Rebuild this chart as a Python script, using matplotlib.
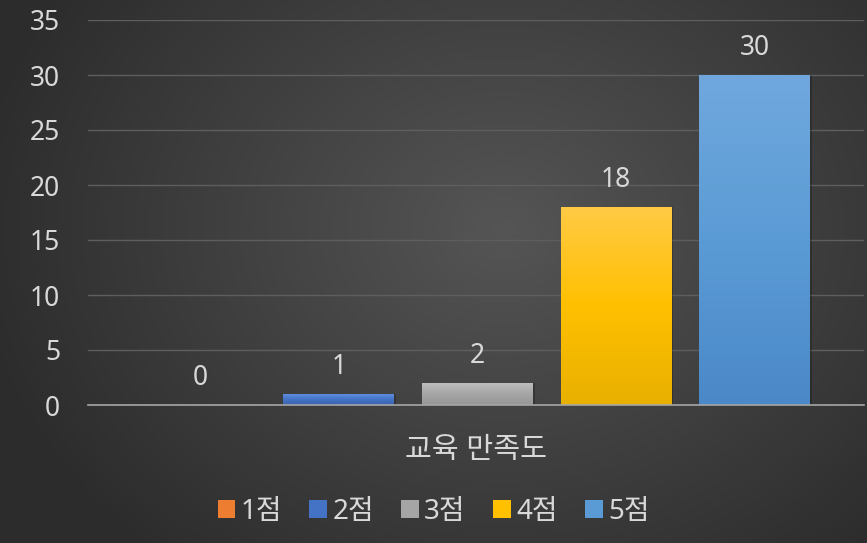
import numpy as np
import matplotlib
matplotlib.use("Agg")
import matplotlib.pyplot as plt
from matplotlib.colors import LinearSegmentedColormap
from matplotlib.patches import Patch

plt.rcParams['font.family'] = ['Noto Sans', 'Noto Sans CJK KR', 'DejaVu Sans']

category = "교육 만족도"
series = ["1점", "2점", "3점", "4점", "5점"]
values = [0, 1, 2, 18, 30]
yticks = [0, 5, 10, 15, 20, 25, 30, 35]
# (top, middle, bottom) gradient colours per series
grad_colors = [
    ("#f4a070", "#ed7d31", "#d56a22"),
    ("#5f8ee0", "#4472c4", "#3a63b0"),
    ("#bdbdbd", "#a5a5a5", "#979797"),
    ("#ffca45", "#ffc000", "#e8b000"),
    ("#70a8de", "#5b9bd5", "#4a88c8"),
]
legend_colors = ["#ed7d31", "#4472c4", "#a5a5a5", "#ffc000", "#5b9bd5"]
text_color = "#d9d9d9"
fs = 19

W, H = 867, 543
fig = plt.figure(figsize=(W / 100, H / 100), dpi=100)

# background radial gradient
bg = fig.add_axes([0, 0, 1, 1])
yy, xx = np.mgrid[0:H, 0:W]
cx, cy = W * 0.58, H * 0.42
r = np.sqrt(((xx - cx) / (W * 0.62)) ** 2 + ((yy - cy) / (H * 0.80)) ** 2)
r = np.clip(r, 0, 1)
c0 = np.array([0x55, 0x55, 0x55]) / 255
c1 = np.array([0x2c, 0x2c, 0x2c]) / 255
img = c0[None, None, :] * (1 - r[..., None]) + c1[None, None, :] * r[..., None]
bg.imshow(img, aspect='auto', extent=[0, 1, 0, 1], origin='upper')
bg.set_axis_off()
bg.set_zorder(0)

left, right = 88, 864
top, bottom = 20, 405
ax = fig.add_axes([left / W, (H - bottom) / H, (right - left) / W, (bottom - top) / H])
ax.set_zorder(1)
ax.patch.set_alpha(0)

x = np.arange(len(series))
width = 0.80

for i, (v, gc) in enumerate(zip(values, grad_colors)):
    if v > 0:
        ax.bar(x[i] + 0.015, v, width=width, color="#000000", alpha=0.22, zorder=2)
    bars = ax.bar(x[i], v, width=width, color=gc[1], zorder=3, linewidth=0)
    b = bars[0]
    if v > 0:
        cmap = LinearSegmentedColormap.from_list("g", [gc[2], gc[1], gc[0]])
        grad = np.linspace(0, 1, 256).reshape(-1, 1)
        im = ax.imshow(grad, cmap=cmap, aspect='auto', origin='lower',
                       extent=[x[i] - width / 2, x[i] + width / 2, 0, v], zorder=4)
        im.set_clip_path(b)
    ax.text(x[i], v + 1.2, f"{v}", ha='center', va='bottom', color=text_color, fontsize=fs)

ax.set_xlim(-0.81, len(series) - 1 + 0.79)
ax.set_ylim(0, 35)
ax.set_yticks(yticks)
ax.set_yticklabels([str(t) for t in yticks], fontsize=fs, color=text_color)
ax.tick_params(axis='y', length=0, pad=20)
ax.set_xticks([])
ax.grid(axis='y', color="#5e5e5e", linewidth=1.0, zorder=0)
ax.set_axisbelow(True)
for s in ['top', 'right', 'left']:
    ax.spines[s].set_visible(False)
ax.spines['bottom'].set_color("#a6a6a6")
ax.spines['bottom'].set_linewidth(1.2)
ax.spines['bottom'].set_zorder(5)

fig.text((left + right) / 2 / W, 1 - 450 / H, category, ha='center', va='center',
         color=text_color, fontsize=fs + 2)

handles = [Patch(facecolor=c, edgecolor='none') for c in legend_colors]
leg = fig.legend(handles, series, loc='center', bbox_to_anchor=(0.5, 1 - 512 / H),
                 ncol=5, frameon=False, fontsize=fs + 1, handlelength=0.62, handleheight=0.62,
                 handletextpad=0.2, columnspacing=1.0, labelcolor=text_color)

fig.savefig("out.png", dpi=100)
